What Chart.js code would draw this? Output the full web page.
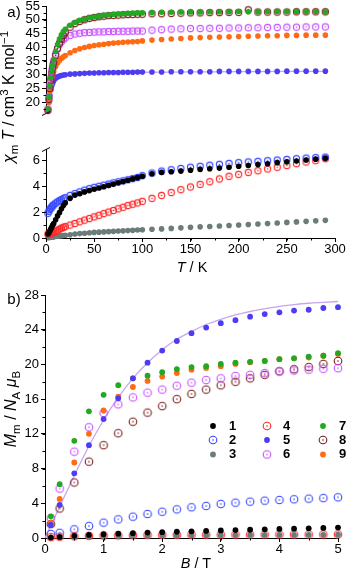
<!DOCTYPE html>
<html><head><meta charset="utf-8">
<script src="https://cdn.jsdelivr.net/npm/chart.js@4.4.1/dist/chart.umd.min.js"></script>
<style>
html,body{margin:0;padding:0;background:#fff;width:347px;height:575px;overflow:hidden;position:relative;font-family:'Liberation Sans',Arial,Helvetica,sans-serif;}
canvas{position:absolute;left:0;}
.t{position:absolute;font-size:14px;color:#000;white-space:nowrap;line-height:1;transform:translate(-50%,-50%);}
.rot{transform:translate(-50%,-50%) rotate(-90deg);}
sub,sup{font-size:72%;line-height:0;}
</style></head><body>
<canvas id="a1" width="347" height="162" style="top:-8px"></canvas>
<canvas id="a2" width="347" height="133" style="top:135px"></canvas>
<canvas id="b" width="347" height="287" style="top:281px"></canvas>
<div class="t" style="left:14px;top:11px;font-size:15px">a)</div>
<div class="t" style="left:14px;top:298px;font-size:15px">b)</div>
<div class="t rot" style="left:9px;top:97px;font-size:16px"><i>χ</i><sub>m</sub> <i>T</i> / cm<sup>3</sup> K mol<sup>−1</sup></div>
<div class="t rot" style="left:11px;top:409px;font-size:16px"><i>M</i><sub>m</sub> / <i>N</i><sub>A</sub> <i>μ</i><sub>B</sub></div>
<div class="t" style="left:192px;top:267px;font-size:14.5px"><i>T</i> / K</div>
<div class="t" style="left:196px;top:563px;font-size:14.5px"><i>B</i> / T</div>
<script>
// ---------- data: panel a (chi_m T vs T) ----------
const tempA = [2,3,4,5,6,7,8,10,12,14,16,18,20,25,30,35,40,45,50,55,60,65,70,75,80,85,90,95,100,110,120,130,140,150,160,170,180,190,200,210,220,230,240,250,260,270,280,290];
const chi1 = [0.30,0.40,0.55,0.70,0.85,1.00,1.12,1.40,1.70,1.95,2.25,2.50,2.70, 3.05,3.30,3.40,3.55,3.65,3.75,3.85,3.95,4.05,4.15,4.25,4.35,4.45,4.55,4.65,4.75, 4.95,5.05,5.10,5.15,5.22,5.28,5.33,5.38,5.45,5.52,5.58,5.65,5.72,5.80,5.86,5.93,6.00,6.07,6.13];
const chi2 = [1.90,2.05,2.20,2.30,2.40,2.48,2.55,2.68,2.78,2.87,2.95,3.03,3.10, 3.28,3.42,3.55,3.68,3.80,3.90,3.98,4.06,4.15,4.24,4.32,4.40,4.48,4.57,4.66,4.80, 5.00,5.15,5.25,5.35,5.45,5.52,5.60,5.67,5.74,5.80,5.85,5.90,5.95,6.00,6.05,6.10,6.15,6.19,6.22];
const chi3 = [0.03,0.04,0.05,0.06,0.07,0.08,0.09,0.11,0.13,0.15,0.17,0.19,0.21, 0.25,0.30,0.34,0.37,0.40,0.43,0.45,0.47,0.49,0.51,0.53,0.55,0.57,0.59,0.61,0.63, 0.67,0.70,0.74,0.78,0.82,0.86,0.89,0.92,0.96,1.00,1.04,1.08,1.12,1.16,1.20,1.24,1.28,1.32,1.36];
const chi4 = [0.30,0.32,0.35,0.38,0.40,0.43,0.46,0.52,0.60,0.68,0.76,0.82,0.88, 1.00,1.12,1.25,1.38,1.50,1.63,1.75,1.88,2.00,2.12,2.25,2.37,2.50,2.60,2.70,2.82, 3.05,3.28,3.50,3.72,3.93,4.13,4.33,4.55,4.75,4.90,5.05,5.18,5.32,5.45,5.58,5.72,5.85,5.96,6.10];
const chi5 = [17.0,20.0,22.5,24.5,26.0,27.0,27.8,28.7,29.2,29.5,29.7,29.9,30.0, 30.2,30.3,30.4,30.5,30.6,30.6,30.7,30.7,30.8,30.8,30.8,30.9,30.9,30.9,31.0,31.0, 31.0,31.0,31.1,31.1,31.1,31.1,31.1,31.2,31.2,31.2,31.2,31.2,31.2,31.2,31.3,31.3,31.3,31.3,31.3];
const chi6 = [17.5,22.0,26.0,29.0,31.5,33.5,35.0,37.5,39.5,41.0,42.0,42.8,43.4, 44.3,44.8,45.1,45.3,45.4,45.5,45.6,45.6,45.7,45.7,45.8,45.8,45.8,45.9,45.9,45.9, 46.2,46.4,46.6,46.7,46.8,46.8,46.9,46.9,47.0,47.0,47.1,47.1,47.2,47.2,47.3,47.3,47.4,47.4,47.4];
const chi7 = [17.5,22.0,26.0,29.0,31.5,33.5,35.5,38.5,41.0,43.0,44.5,45.7,46.5, 48.0,49.0,49.7,50.2,50.7,51.0,51.3,51.6,51.8,52.0,52.1,52.2,52.3,52.4,52.5,52.5, 52.6,52.7,52.7,52.8,52.8,52.8,52.9,52.9,52.9,53.0,52.9,52.9,53.0,53.0,53.0,53.0,53.0,53.0,52.9];
const chi8 = [17.0,21.0,25.0,28.0,30.5,32.5,34.2,37.0,39.5,41.5,43.0,44.3,45.3, 47.3,48.6,49.4,50.0,50.5,50.8,51.1,51.3,51.5,51.6,51.7,51.8,51.9,51.9,52.0,52.0, 52.2,52.2,52.3,52.4,52.5,52.5,52.6,52.6,52.7,52.7,53.6,52.8,52.8,52.8,52.8,52.9,52.9,52.9,52.9];
const chi9 = [17.0,20.0,24.0,26.5,28.5,30.0,31.2,33.0,34.3,35.2,35.9,36.5,37.0, 38.0,38.8,39.4,39.9,40.3,40.6,40.9,41.1,41.3,41.5,41.6,41.8,41.9,42.0,42.1,42.3, 42.6,42.8,43.0,43.2,43.4,43.5,43.6,43.7,43.8,43.9,44.0,44.1,44.2,44.2,44.3,44.3,44.4,44.4,44.4];
const fitAT = [2,3,4,5,6,8,10,15,20,30,50,100,150,200,250,290];
const fitAV = [16.5,19.0,21.5,23.3,24.8,26.8,28.0,29.3,29.8,30.2,30.6,30.9,31.0,31.1,31.2,31.2];

// ---------- data: panel b (M vs B) ----------
const fieldB = [0.1,0.25,0.5,0.75,1,1.25,1.5,1.75,2,2.25,2.5,2.75,3,3.25,3.5,3.75,4,4.25,4.5,4.75,5];
const mag1 = [0.05,0.12,0.25,0.35,0.43,0.50,0.56,0.62,0.67,0.72,0.77,0.82,0.87,0.91,0.95,1.00,1.04,1.08,1.12,1.16,1.20];
const mag2 = [0.46,0.60,1.00,1.38,1.77,2.15,2.46,2.77,3.03,3.30,3.54,3.69,3.92,4.07,4.19,4.30,4.38,4.46,4.53,4.60,4.69];
const mag3 = [0.05,0.08,0.12,0.16,0.19,0.22,0.25,0.27,0.29,0.30,0.31,0.32,0.33,0.34,0.35,0.35,0.36,0.36,0.37,0.37,0.38];
const mag4 = [0.10,0.15,0.20,0.25,0.28,0.30,0.32,0.34,0.35,0.36,0.37,0.38,0.38,0.39,0.39,0.40,0.40,0.40,0.41,0.41,0.41];
const mag5 = [1.5,3.8,7.45,10.7,13.7,16.1,18.4,20.2,21.6,22.7,23.6,24.25,24.75,25.1,25.5,25.8,26.0,26.2,26.3,26.5,26.6];
const mag6 = [2.3,5.7,9.95,12.76,14.4,15.4,16.2,16.75,17.1,17.55,17.9,18.2,18.4,18.67,18.8,19.0,19.2,19.3,19.4,19.5,19.56];
const mag7 = [2.5,6.2,11.2,14.6,16.5,17.6,18.4,18.7,19.1,19.45,19.7,19.8,20.06,20.2,20.3,20.4,20.6,20.7,20.9,21.0,21.3];
const mag8 = [1.6,3.4,6.4,8.8,10.7,12.07,13.4,14.45,15.2,16.0,16.6,17.1,17.6,18.0,18.4,18.8,19.2,19.45,19.7,20.06,20.4];
const mag9 = [1.77,4.5,8.7,12.0,14.7,16.3,17.4,18.1,18.6,19.0,19.4,19.6,19.8,20.06,20.25,20.4,20.6,20.7,20.8,21.0,21.2];
const fitBB = [0,0.25,0.5,0.75,1,1.25,1.5,1.75,2,2.25,2.5,2.75,3,3.25,3.5,3.75,4,4.25,4.5,4.75,5];
const fitBV = [0,3.6,7.2,10.6,13.6,16.2,18.4,20.2,21.7,22.9,23.8,24.6,25.2,25.7,26.1,26.4,26.7,26.9,27.05,27.15,27.25];

// ---------- tick labels ----------
const ticksATopY = [20,25,30,35,40,45,50,55];
const ticksABotY = [0,2,4,6];
const ticksAX = [0,50,100,150,200,250,300];
const ticksBY = [0,4,8,12,16,20,24,28];
const ticksBX = [0,1,2,3,4,5];
const seriesNames = ['1','2','3','4','5','6','7','8','9'];

// ---------- styles ----------
const COL = ['#000000','#3346ff','#6c7c7b','#ff2626','#4e3cf2','#c64dff','#22a822','#7a1c1c','#ff6a13'];
const OPEN = [false,true,false,true,false,true,false,true,false];
const FIT = '#c7a5f2';
const FF = "'Liberation Sans', Arial, Helvetica, sans-serif";
Chart.defaults.font.family = FF;
Chart.defaults.font.size = 13;
Chart.defaults.color = '#000';
Chart.defaults.animation = false;

function ring(color, r, lw){
  const s = Math.ceil(2*(r+lw))+2;
  const c = document.createElement('canvas'); c.width = s; c.height = s;
  const g = c.getContext('2d');
  g.strokeStyle = color; g.lineWidth = lw;
  g.beginPath(); g.arc(s/2, s/2, r, 0, Math.PI*2); g.stroke();
  g.fillStyle = color; g.beginPath(); g.arc(s/2, s/2, 0.8, 0, Math.PI*2); g.fill();
  return c;
}
function pts(xs, ys){ return xs.map((x,i)=>({x:x, y:ys[i]})); }
function ds(i, xs, ys, rOpen, rFill){
  const open = OPEN[i];
  return { label: seriesNames[i], data: pts(xs, ys), showLine:false, clip:false,
    pointStyle: open ? ring(COL[i], rOpen, 1.1) : 'circle',
    pointRadius: open ? rOpen : rFill, pointHoverRadius: open ? rOpen : rFill,
    pointBackgroundColor: COL[i], pointBorderColor: COL[i], pointBorderWidth: 0 };
}
function fitDs(xs, ys){
  return { label:'fit', data: pts(xs, ys), showLine:true, clip:false, borderColor: FIT, borderWidth:1.3,
    pointRadius:0, pointHoverRadius:0, tension:0.35, cubicInterpolationMode:'monotone' };
}
function setTicks(arr){ return s => { s.ticks = arr.map(v => ({value:v})); }; }
function xAxis(min, max, ticks, display){
  return { type:'linear', min:min, max:max, display:display,
    afterBuildTicks: setTicks(ticks), afterFit: s => { s.height = 30; },
    grid:{ drawOnChartArea:false, drawTicks:true, tickLength:4, tickColor:'#000', tickWidth:1 },
    border:{ display:true, color:'#000', width:1 },
    ticks:{ padding:0, maxRotation:0, autoSkip:false, color:'#000', font:{size:13} } };
}
function yAxis(min, max, ticks, w){
  return { type:'linear', min:min, max:max,
    afterBuildTicks: setTicks(ticks), afterFit: s => { s.width = w; },
    grid:{ drawOnChartArea:false, drawTicks:true, tickLength:4, tickColor:'#000', tickWidth:1 },
    border:{ display:true, color:'#000', width:1 },
    ticks:{ padding:2, autoSkip:false, color:'#000', font:{size:13} } };
}
const minorPlugin = {
  id:'minor',
  afterDraw(chart, args, o){
    const ctx = chart.ctx, a = chart.chartArea;
    ctx.save(); ctx.strokeStyle = '#000'; ctx.lineWidth = 1;
    if (o.x && chart.scales.x.options.display){
      const s = chart.scales.x;
      for (let v = Math.ceil(s.min/o.x)*o.x; v <= s.max + 1e-9; v += o.x){
        const p = Math.round(s.getPixelForValue(v)) + 0.5;
        ctx.beginPath(); ctx.moveTo(p, a.bottom); ctx.lineTo(p, a.bottom + 2.5); ctx.stroke();
      }
    }
    if (o.y){
      const s = chart.scales.y;
      for (let v = Math.ceil(s.min/o.y - 1e-9)*o.y; v <= s.max + 1e-9; v += o.y){
        const p = Math.round(s.getPixelForValue(v)) + 0.5;
        ctx.beginPath(); ctx.moveTo(a.left - 2.5, p); ctx.lineTo(a.left, p); ctx.stroke();
      }
    }
    if (o.brk === 'bottom'){
      const x = a.left, y = a.bottom;
      ctx.fillStyle = '#fff'; ctx.fillRect(x - 1, y - 1, 2, 3);
      ctx.beginPath(); ctx.moveTo(x - 4, y + 1.5); ctx.lineTo(x + 4, y - 2.5); ctx.stroke();
    }
    if (o.brk === 'top'){
      const x = a.left, y = a.top;
      ctx.beginPath(); ctx.moveTo(x - 4, y + 2.5); ctx.lineTo(x + 4, y - 1.5); ctx.stroke();
    }
    ctx.restore();
  }
};
const legendPlugin = {
  id:'cornerLegend',
  afterDraw(chart, args, o){
    if (!o.items) return;
    const ctx = chart.ctx;
    ctx.save();
    ctx.font = 'bold 13px ' + FF; ctx.textBaseline = 'middle'; ctx.fillStyle = '#000';
    o.items.forEach(it => {
      const i = it.i, cy = it.y - o.offsetY;
      if (OPEN[i]){
        const img = ring(COL[i], 3.8, 1.1);
        ctx.drawImage(img, it.x - img.width/2, cy - img.height/2);
      } else {
        ctx.fillStyle = COL[i]; ctx.beginPath(); ctx.arc(it.x, cy, 2.9, 0, Math.PI*2); ctx.fill();
      }
      ctx.fillStyle = '#000';
      ctx.fillText(seriesNames[i], it.x + 16, cy);
    });
    ctx.restore();
  }
};
Chart.register(minorPlugin, legendPlugin);

const chiTop = [chi7, chi8, chi6, chi9, chi5];
const idxTop = [6, 7, 5, 8, 4];
const chiBot = [chi1, chi2, chi4, chi3];
const idxBot = [0, 1, 3, 2];

new Chart(document.getElementById('a1'), {
  type:'scatter',
  data:{ datasets: idxTop.map((i,k) => ds(i, tempA, chiTop[k], 3.1, 2.8)).concat([fitDs(fitAT, fitAV)]) },
  options:{ responsive:false, animation:false, events:[],
    layout:{ padding:{ left:0, right:12, top:14, bottom:10 } },
    plugins:{ legend:{display:false}, tooltip:{enabled:false}, minor:{ y:2.5, brk:'bottom' } },
    scales:{ x: xAxis(0, 300, ticksAX, false), y: yAxis(15.7, 55, ticksATopY, 46) } }
});
new Chart(document.getElementById('a2'), {
  type:'scatter',
  data:{ datasets: idxBot.map((i,k) => ds(i, tempA, chiBot[k], 3.1, 2.8)) },
  options:{ responsive:false, animation:false, events:[],
    layout:{ padding:{ left:0, right:12, top:14, bottom:0 } },
    plugins:{ legend:{display:false}, tooltip:{enabled:false}, minor:{ x:25, y:1, brk:'top' } },
    scales:{ x: xAxis(0, 300, ticksAX, true), y: yAxis(0, 6.85, ticksABotY, 46) } }
});

const magAll = [mag1, mag2, mag3, mag4, mag5, mag6, mag7, mag8, mag9];
const orderB = [0, 2, 3, 1, 4, 6, 8, 5, 7];
new Chart(document.getElementById('b'), {
  type:'scatter',
  data:{ datasets: orderB.map(i => ds(i, fieldB, magAll[i], 3.8, 2.9)).concat([fitDs(fitBB, fitBV)]) },
  options:{ responsive:false, animation:false, events:[],
    layout:{ padding:{ left:0, right:9, top:14, bottom:0 } },
    plugins:{ legend:{display:false}, tooltip:{enabled:false}, minor:{ x:0.5, y:2 },
      cornerLegend:{ offsetY:281, items:[
        {i:0,x:213,y:426},{i:1,x:213,y:440},{i:2,x:213,y:454.5},
        {i:3,x:267,y:426},{i:4,x:267,y:440},{i:5,x:267,y:454.5},
        {i:6,x:323,y:426},{i:7,x:323,y:440},{i:8,x:323,y:454.5} ] } },
    scales:{ x: xAxis(0, 5, ticksBX, true), y: yAxis(0, 28, ticksBY, 45) } }
});
</script>
</body></html>
